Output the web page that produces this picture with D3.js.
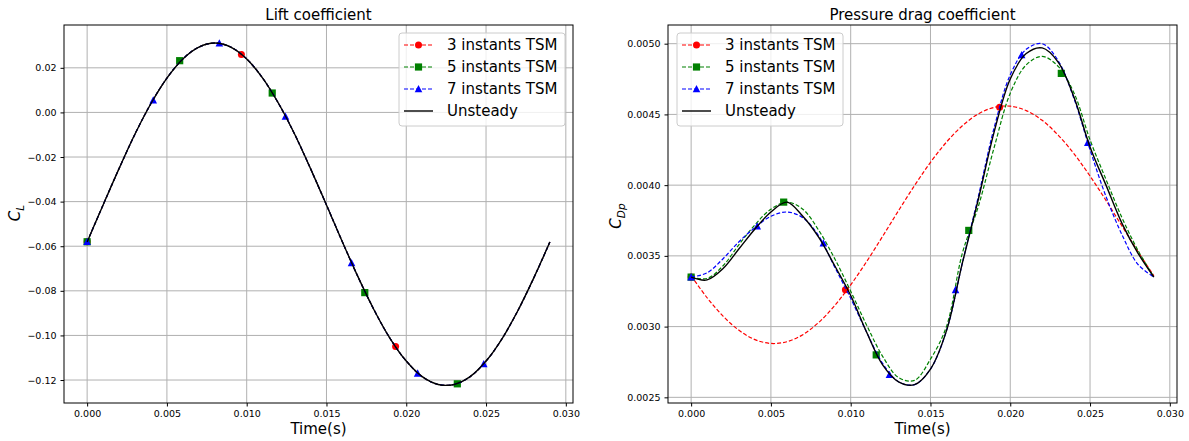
<!DOCTYPE html>
<html>
<head>
<meta charset="utf-8">
<script src="https://cdn.jsdelivr.net/npm/d3@7"></script>
<style>
  body { margin: 0; background: #fff; }
  svg { display: block; font-family: "DejaVu Sans", sans-serif; }
</style>
</head>
<body>
<div id="chart"></div>
<script>
// sample times of the curves (s)
const tGrid = [0, 0.001, 0.002, 0.003, 0.004, 0.005, 0.006, 0.007, 0.008, 0.009,
               0.010, 0.011, 0.012, 0.013, 0.014, 0.015, 0.016, 0.017, 0.018, 0.019,
               0.020, 0.021, 0.022, 0.023, 0.024, 0.025, 0.026, 0.027, 0.028, 0.029];

// lift coefficient, unsteady (TSM reconstructions lie on top of it)
const liftUnsteady = [-0.0581, -0.0415, -0.0252, -0.0097, 0.0040, 0.0154, 0.0240, 0.0293, 0.0311, 0.0293,
                      0.0240, 0.0154, 0.0040, -0.0097, -0.0252, -0.0415, -0.0581, -0.0741, -0.0888, -0.1015,
                      -0.1115, -0.1185, -0.1220, -0.1220, -0.1185, -0.1115, -0.1015, -0.0888, -0.0741, -0.0581];
const liftTsm3 = liftUnsteady.slice();
const liftTsm5 = liftUnsteady.slice();
const liftTsm7 = liftUnsteady.slice();

// pressure drag coefficient
const dragUnsteady = [0.00335, 0.00333, 0.00341, 0.00355, 0.00369, 0.00381, 0.00388, 0.00378, 0.00363, 0.00343,
                      0.00322, 0.00296, 0.00273, 0.00261, 0.00259, 0.00270, 0.00297, 0.00345, 0.00390, 0.00438,
                      0.00475, 0.00493, 0.00497, 0.00487, 0.00462, 0.00427, 0.00400, 0.00373, 0.00352, 0.00335];
const dragTsm3 = [0.003359, 0.003204, 0.003074, 0.002974, 0.002908, 0.002881, 0.002893, 0.002943, 0.003030, 0.003149,
                  0.003295, 0.003460, 0.003638, 0.003820, 0.003997, 0.004161, 0.004304, 0.004420, 0.004504, 0.004550,
                  0.004558, 0.004527, 0.004458, 0.004354, 0.004221, 0.004064, 0.003892, 0.003711, 0.003531, 0.003359];
const dragTsm5 = [0.00335, 0.00334, 0.00343, 0.00358, 0.00372, 0.00383, 0.00388, 0.00383, 0.00368, 0.00348,
                  0.00325, 0.00301, 0.00279, 0.00264, 0.00262, 0.00277, 0.00300, 0.00352, 0.00385, 0.00427,
                  0.00465, 0.00485, 0.00491, 0.00484, 0.00465, 0.00432, 0.00404, 0.00377, 0.00354, 0.00335];
const dragTsm7 = [0.00335, 0.00338, 0.00348, 0.00360, 0.00370, 0.00378, 0.00381, 0.00377, 0.00364, 0.00342,
                  0.00320, 0.00296, 0.00274, 0.00261, 0.00259, 0.00270, 0.00297, 0.00345, 0.00392, 0.00441,
                  0.00478, 0.00496, 0.00500, 0.00488, 0.00461, 0.00425, 0.00392, 0.00365, 0.00344, 0.00335];

// time instants of each TSM and the values at those instants
const tsm3Times = [0, 0.009667, 0.019333];
const tsm5Times = [0, 0.0058, 0.0116, 0.0174, 0.0232];
const tsm7Times = [0, 0.004143, 0.008286, 0.012429, 0.016571, 0.020714, 0.024857];
const liftTsm3Pts = [-0.058, 0.026, -0.105];
const liftTsm5Pts = [-0.058, 0.0232, 0.0087, -0.0808, -0.1217];
const liftTsm7Pts = [-0.058, 0.0055, 0.031, -0.0018, -0.0675, -0.117, -0.1128];
const dragTsm3Pts = [0.00335, 0.00326, 0.00455];
const dragTsm5Pts = [0.00335, 0.00388, 0.00280, 0.00368, 0.00479];
const dragTsm7Pts = [0.00335, 0.00371, 0.00359, 0.00266, 0.00326, 0.00492, 0.00430];

const xTicks = [0, 0.005, 0.010, 0.015, 0.020, 0.025, 0.030];
const liftTicks = [0.02, 0.00, -0.02, -0.04, -0.06, -0.08, -0.10, -0.12];
const dragTicks = [0.0025, 0.0030, 0.0035, 0.0040, 0.0045, 0.0050];
const legendNames = ["3 instants TSM", "5 instants TSM", "7 instants TSM", "Unsteady"];

const width = 1189, height = 441;
const svg = d3.select("#chart").append("svg")
  .attr("width", width).attr("height", height);

const marker = {
  circle: "M3.5,0A3.5,3.5,0,1,1,-3.5,0A3.5,3.5,0,1,1,3.5,0Z",
  square: "M-3.6,-3.6H3.6V3.6H-3.6Z",
  triangle: "M0,-4L3.8,3.3H-3.8Z"
};

function panel(cfg) {
  const x = d3.scaleLinear().domain([-0.00145, 0.03045]).range([cfg.left, cfg.right]);
  const y = d3.scaleLinear().domain(cfg.yDomain).range([403, 25]);
  const g = svg.append("g");

  // grid
  g.append("g").selectAll("line").data(xTicks).join("line")
    .attr("x1", d => x(d)).attr("x2", d => x(d)).attr("y1", 25).attr("y2", 403)
    .attr("stroke", "#b0b0b0").attr("stroke-width", 1);
  g.append("g").selectAll("line").data(cfg.yTicks).join("line")
    .attr("y1", d => y(d)).attr("y2", d => y(d)).attr("x1", cfg.left).attr("x2", cfg.right)
    .attr("stroke", "#b0b0b0").attr("stroke-width", 1);

  // axes
  const ax = g.append("g").attr("transform", "translate(0,403)")
    .call(d3.axisBottom(x).tickValues(xTicks).tickFormat(d3.format(".3f")).tickSizeOuter(0).tickSize(3.5).tickPadding(4));
  const ay = g.append("g").attr("transform", `translate(${cfg.left},0)`)
    .call(d3.axisLeft(y).tickValues(cfg.yTicks).tickFormat(cfg.fmt).tickSizeOuter(0).tickSize(3.5).tickPadding(4));
  [ax, ay].forEach(a => {
    a.select(".domain").remove();
    a.selectAll("text").attr("font-family", "DejaVu Sans").attr("font-size", 9.5).attr("fill", "#000");
  });

  // curves
  const clip = "clip" + cfg.id;
  svg.append("clipPath").attr("id", clip).append("rect")
    .attr("x", cfg.left).attr("y", 25).attr("width", cfg.right - cfg.left).attr("height", 378);
  const line = d3.line().x((d, i) => x(tGrid[i])).y(d => y(d)).curve(d3.curveCatmullRom.alpha(0.5));
  const plot = g.append("g").attr("clip-path", `url(#${clip})`);
  cfg.series.forEach(s => {
    plot.append("path").datum(s.values)
      .attr("fill", "none").attr("stroke", s.color).attr("stroke-width", s.dash ? 1.2 : 1.4)
      .attr("stroke-dasharray", s.dash ? "4,2" : null).attr("d", line);
    if (s.times) {
      plot.append("g").selectAll("path").data(s.pts).join("path")
        .attr("transform", (d, i) => `translate(${x(s.times[i])},${y(d)})`)
        .attr("d", marker[s.marker]).attr("fill", s.color);
    }
  });

  // frame
  g.append("rect").attr("x", cfg.left).attr("y", 25)
    .attr("width", cfg.right - cfg.left).attr("height", 378)
    .attr("fill", "none").attr("stroke", "#000").attr("stroke-width", 1);

  // title and labels
  g.append("text").attr("x", (cfg.left + cfg.right) / 2).attr("y", 20)
    .attr("text-anchor", "middle").attr("font-size", 15).text(cfg.title);
  g.append("text").attr("x", (cfg.left + cfg.right) / 2).attr("y", 434)
    .attr("text-anchor", "middle").attr("font-size", 15).text("Time(s)");
  const yl = g.append("text")
    .attr("transform", `translate(${cfg.ylabelX},${cfg.ylabelY}) rotate(-90)`)
    .attr("text-anchor", "middle").attr("font-size", 15);
  yl.append("tspan").attr("font-style", "italic").text("C");
  yl.append("tspan").attr("font-style", "italic").attr("font-size", 10.5).attr("dy", 4).text(cfg.ysub);

  // legend
  const lg = g.append("g").attr("transform", `translate(${cfg.legendX},33)`);
  lg.append("rect").attr("width", 166).attr("height", 93).attr("rx", 3)
    .attr("fill", "#fff").attr("fill-opacity", 0.8).attr("stroke", "#cccccc");
  cfg.series.forEach((s, i) => {
    const row = lg.append("g").attr("transform", `translate(0,${12 + i * 22})`);
    row.append("line").attr("x1", 5).attr("x2", 34)
      .attr("stroke", s.color).attr("stroke-width", s.dash ? 1.2 : 1.4)
      .attr("stroke-dasharray", s.dash ? "4,2" : null);
    if (s.marker) row.append("path").attr("transform", "translate(19.5,0)").attr("d", marker[s.marker]).attr("fill", s.color);
    row.append("text").attr("x", 48).attr("dy", "0.35em").attr("font-size", 15).text(legendNames[i]);
  });
}

panel({
  id: "lift", left: 64, right: 573, yDomain: [-0.1303, 0.0392],
  yTicks: liftTicks, fmt: d3.format(".2f"),
  title: "Lift coefficient", ysub: "L", ylabelX: 20, ylabelY: 213, legendX: 399,
  series: [
    { color: "#ff0000", dash: true, marker: "circle", values: liftTsm3, times: tsm3Times, pts: liftTsm3Pts },
    { color: "#008000", dash: true, marker: "square", values: liftTsm5, times: tsm5Times, pts: liftTsm5Pts },
    { color: "#0000ff", dash: true, marker: "triangle", values: liftTsm7, times: tsm7Times, pts: liftTsm7Pts },
    { color: "#000000", dash: false, values: liftUnsteady }
  ]
});

panel({
  id: "drag", left: 668, right: 1177, yDomain: [0.00246, 0.005132],
  yTicks: dragTicks, fmt: d3.format(".4f"),
  title: "Pressure drag coefficient", ysub: "Dp", ylabelX: 621, ylabelY: 216, legendX: 677,
  series: [
    { color: "#ff0000", dash: true, marker: "circle", values: dragTsm3, times: tsm3Times, pts: dragTsm3Pts },
    { color: "#008000", dash: true, marker: "square", values: dragTsm5, times: tsm5Times, pts: dragTsm5Pts },
    { color: "#0000ff", dash: true, marker: "triangle", values: dragTsm7, times: tsm7Times, pts: dragTsm7Pts },
    { color: "#000000", dash: false, values: dragUnsteady }
  ]
});
</script>
</body>
</html>
